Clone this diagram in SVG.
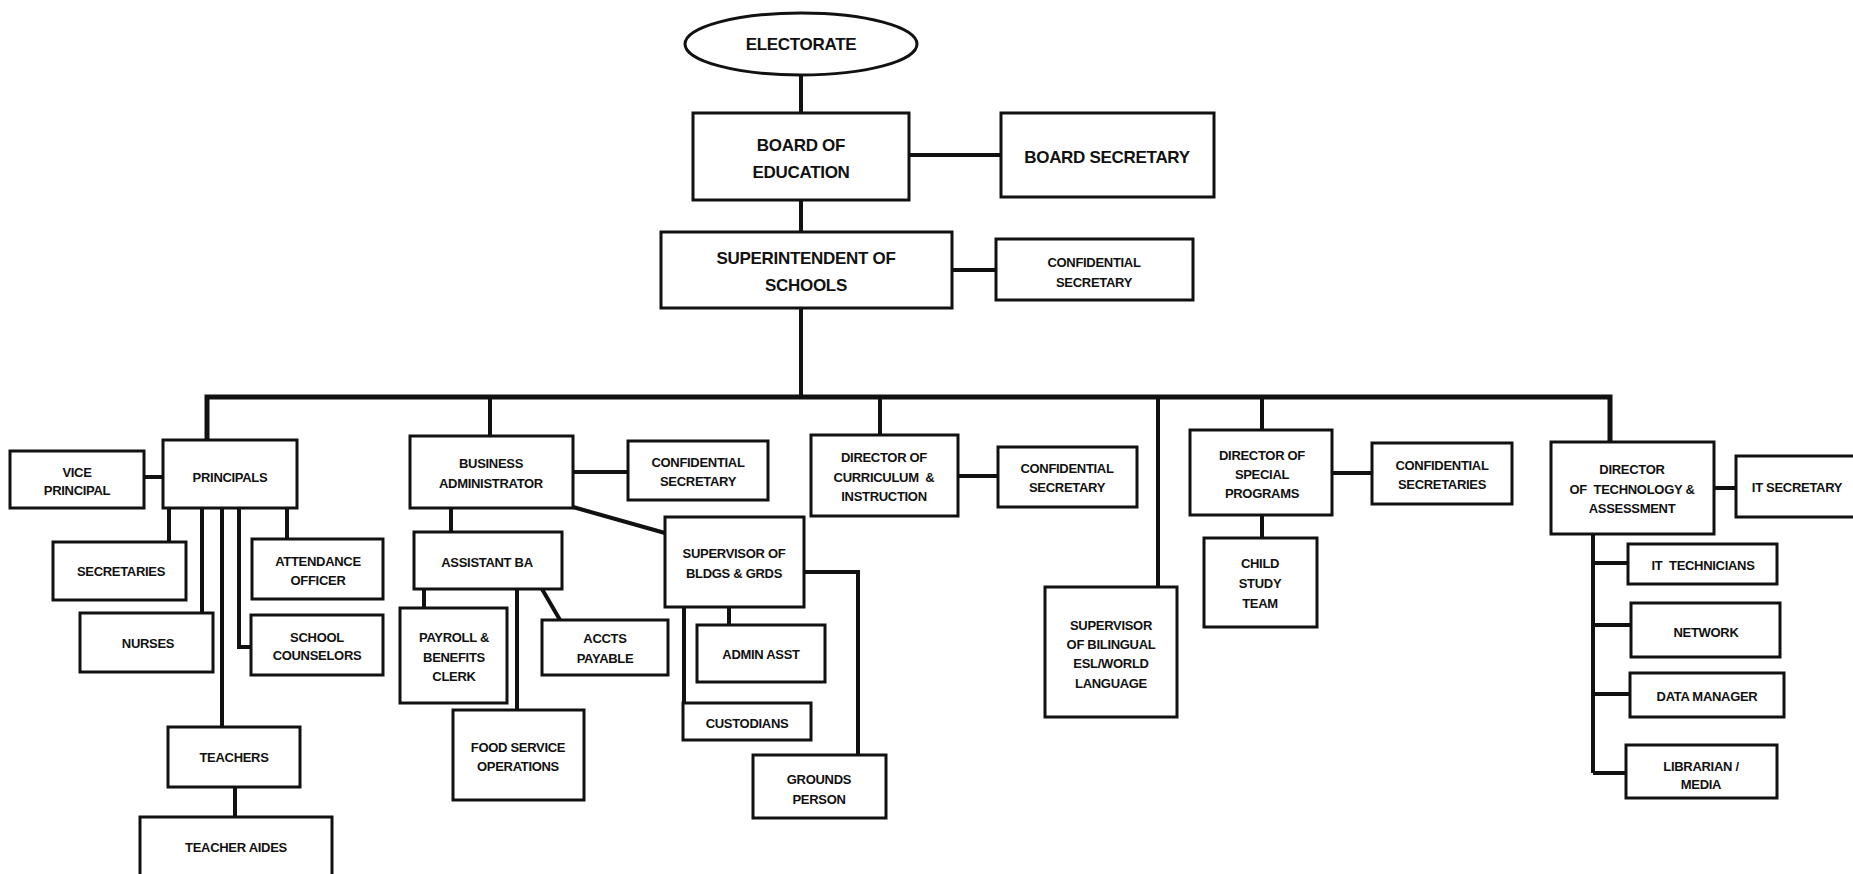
<svg xmlns="http://www.w3.org/2000/svg" width="1853" height="874" viewBox="0 0 1853 874">
<style>
.b{fill:#fff;stroke:#111;stroke-width:3}
.t{font-family:"Liberation Sans",Arial,sans-serif;font-weight:bold;font-size:13px;fill:#111;text-anchor:middle;dominant-baseline:central;letter-spacing:-0.3px}
.L{font-size:17px}
.c{fill:none;stroke:#111;stroke-width:4;stroke-linejoin:miter}
</style>
<rect width="1853" height="874" fill="#fff"/>
<g id="connectors">
<path class="c" d="M801,75V113M909,155H1001M801,200V232M952,270H996M801,308V397"/>
<path class="c" style="stroke-width:5" d="M207,440V397H1610V442"/>
<path class="c" d="M144,477H163M169,508V542M202,508V613M222,508V727M287,508V539M239,508V647H251M235,787V817"/>
<path class="c" d="M490,397V436M573,472H628M573,507L665,533M451,508V532M424,589V608M517,589V710M542,589L560,620M729,607V625M684,607V703M804,572H858V755"/>
<path class="c" d="M880,397V435M958,476H998M1158,397V587"/>
<path class="c" d="M1262,397V430M1332,473H1372M1262,515V538"/>
<path class="c" d="M1714,488H1736M1593,534V773M1593,563H1628M1593,625H1631M1593,694H1630M1593,773H1626"/>
</g>
<g id="electorate"><ellipse class="b" cx="801" cy="44" rx="116" ry="31"/><text class="t L" x="801" y="44">ELECTORATE</text></g>
<g id="board"><rect class="b" x="693" y="113" width="216" height="87"/><text class="t L" x="801" y="145">BOARD OF</text><text class="t L" x="801" y="172">EDUCATION</text></g>
<g id="boardsec"><rect class="b" x="1001" y="113" width="213" height="84"/><text class="t L" x="1107" y="157">BOARD SECRETARY</text></g>
<g id="sup"><rect class="b" x="661" y="232" width="291" height="76"/><text class="t L" x="806" y="258">SUPERINTENDENT OF</text><text class="t L" x="806" y="285">SCHOOLS</text></g>
<g id="supsec"><rect class="b" x="996" y="239" width="197" height="61"/><text class="t" x="1094" y="262">CONFIDENTIAL</text><text class="t" x="1094" y="282">SECRETARY</text></g>
<g id="vp"><rect class="b" x="10" y="451" width="134" height="57"/><text class="t" x="77" y="472">VICE</text><text class="t" x="77" y="490">PRINCIPAL</text></g>
<g id="principals"><rect class="b" x="163" y="440" width="134" height="68"/><text class="t" x="230" y="477">PRINCIPALS</text></g>
<g id="secretaries"><rect class="b" x="53" y="542" width="133" height="58"/><text class="t" x="121" y="571">SECRETARIES</text></g>
<g id="nurses"><rect class="b" x="80" y="613" width="133" height="59"/><text class="t" x="148" y="643">NURSES</text></g>
<g id="attendance"><rect class="b" x="252" y="539" width="131" height="60"/><text class="t" x="318" y="561">ATTENDANCE</text><text class="t" x="318" y="580">OFFICER</text></g>
<g id="counselors"><rect class="b" x="251" y="615" width="132" height="60"/><text class="t" x="317" y="637">SCHOOL</text><text class="t" x="317" y="655">COUNSELORS</text></g>
<g id="teachers"><rect class="b" x="168" y="727" width="132" height="60"/><text class="t" x="234" y="757">TEACHERS</text></g>
<g id="aides"><rect class="b" x="140" y="817" width="192" height="70"/><text class="t" x="236" y="847">TEACHER AIDES</text></g>
<g id="ba"><rect class="b" x="410" y="436" width="163" height="72"/><text class="t" x="491" y="463">BUSINESS</text><text class="t" x="491" y="483">ADMINISTRATOR</text></g>
<g id="basec"><rect class="b" x="628" y="441" width="140" height="59"/><text class="t" x="698" y="462">CONFIDENTIAL</text><text class="t" x="698" y="481">SECRETARY</text></g>
<g id="asstba"><rect class="b" x="414" y="532" width="148" height="57"/><text class="t" x="487" y="562">ASSISTANT BA</text></g>
<g id="payroll"><rect class="b" x="400" y="608" width="107" height="95"/><text class="t" x="454" y="637">PAYROLL &amp;</text><text class="t" x="454" y="657">BENEFITS</text><text class="t" x="454" y="676">CLERK</text></g>
<g id="food"><rect class="b" x="453" y="710" width="131" height="90"/><text class="t" x="518" y="747">FOOD SERVICE</text><text class="t" x="518" y="766">OPERATIONS</text></g>
<g id="accts"><rect class="b" x="542" y="620" width="126" height="55"/><text class="t" x="605" y="638">ACCTS</text><text class="t" x="605" y="658">PAYABLE</text></g>
<g id="supbldg"><rect class="b" x="665" y="517" width="139" height="90"/><text class="t" x="734" y="553">SUPERVISOR OF</text><text class="t" x="734" y="573">BLDGS &amp; GRDS</text></g>
<g id="adminasst"><rect class="b" x="697" y="625" width="128" height="57"/><text class="t" x="761" y="654">ADMIN ASST</text></g>
<g id="custodians"><rect class="b" x="683" y="703" width="128" height="37"/><text class="t" x="747" y="723">CUSTODIANS</text></g>
<g id="grounds"><rect class="b" x="753" y="755" width="133" height="63"/><text class="t" x="819" y="779">GROUNDS</text><text class="t" x="819" y="799">PERSON</text></g>
<g id="curr"><rect class="b" x="811" y="435" width="147" height="81"/><text class="t" x="884" y="457">DIRECTOR OF</text><text class="t" x="884" y="477" xml:space="preserve">CURRICULUM  &amp;</text><text class="t" x="884" y="496">INSTRUCTION</text></g>
<g id="currsec"><rect class="b" x="998" y="447" width="139" height="60"/><text class="t" x="1067" y="468">CONFIDENTIAL</text><text class="t" x="1067" y="487">SECRETARY</text></g>
<g id="biling"><rect class="b" x="1045" y="587" width="132" height="130"/><text class="t" x="1111" y="625">SUPERVISOR</text><text class="t" x="1111" y="644">OF BILINGUAL</text><text class="t" x="1111" y="663">ESL/WORLD</text><text class="t" x="1111" y="683">LANGUAGE</text></g>
<g id="special"><rect class="b" x="1190" y="430" width="142" height="85"/><text class="t" x="1262" y="455">DIRECTOR OF</text><text class="t" x="1262" y="474">SPECIAL</text><text class="t" x="1262" y="493">PROGRAMS</text></g>
<g id="specsec"><rect class="b" x="1372" y="443" width="140" height="61"/><text class="t" x="1442" y="465">CONFIDENTIAL</text><text class="t" x="1442" y="484">SECRETARIES</text></g>
<g id="cst"><rect class="b" x="1204" y="538" width="113" height="89"/><text class="t" x="1260" y="563">CHILD</text><text class="t" x="1260" y="583">STUDY</text><text class="t" x="1260" y="603">TEAM</text></g>
<g id="tech"><rect class="b" x="1551" y="442" width="163" height="92"/><text class="t" x="1632" y="469">DIRECTOR</text><text class="t" x="1632" y="489" xml:space="preserve">OF  TECHNOLOGY &amp;</text><text class="t" x="1632" y="508">ASSESSMENT</text></g>
<g id="itsec"><rect class="b" x="1736" y="456" width="125" height="61"/><text class="t" x="1797" y="487">IT SECRETARY</text></g>
<g id="ittech"><rect class="b" x="1628" y="544" width="149" height="40"/><text class="t" x="1703" y="565" xml:space="preserve">IT  TECHNICIANS</text></g>
<g id="network"><rect class="b" x="1631" y="603" width="149" height="54"/><text class="t" x="1706" y="632">NETWORK</text></g>
<g id="datamgr"><rect class="b" x="1630" y="673" width="154" height="44"/><text class="t" x="1707" y="696">DATA MANAGER</text></g>
<g id="librarian"><rect class="b" x="1626" y="745" width="151" height="53"/><text class="t" x="1701" y="766">LIBRARIAN /</text><text class="t" x="1701" y="784">MEDIA</text></g>
</svg>
